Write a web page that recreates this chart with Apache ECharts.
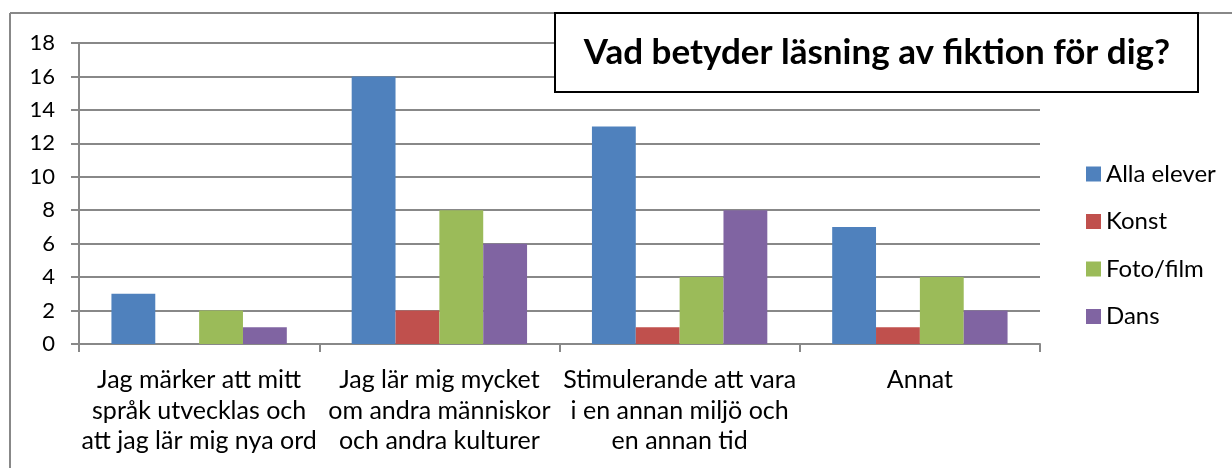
<!DOCTYPE html>
<html>
<head>
<meta charset="utf-8">
<script src="https://cdn.jsdelivr.net/npm/echarts@6/dist/echarts.min.js"></script>
<style>
html,body{margin:0;padding:0;background:#fff;}
#chart{width:1232px;height:468px;}
</style>
</head>
<body>
<div id="chart"></div>
<script>
var categories = [
  "Jag märker att mitt\nspråk utvecklas och\natt jag lär mig nya ord",
  "Jag lär mig mycket\nom andra människor\noch andra kulturer",
  "Stimulerande att vara\ni en annan miljö och\nen annan tid",
  "Annat"
];
var seriesNames = ["Alla elever", "Konst", "Foto/film", "Dans"];
var allaElever = [3, 16, 13, 7];
var konst = [0, 2, 1, 1];
var fotoFilm = [2, 8, 4, 4];
var dans = [1, 6, 8, 2];
var colors = ["#4F81BD", "#C0504D", "#9BBB59", "#8064A2"];
var titleText = "Vad betyder läsning av fiktion för dig?";

var FONT = "Lato, 'Open Sans', sans-serif";
var chart = echarts.init(document.getElementById('chart'));
var data = [allaElever, konst, fotoFilm, dans];
var series = seriesNames.map(function (n, i) {
  return {
    name: n, type: 'bar', data: data[i],
    barGap: '0%', barCategoryGap: '27%',
    itemStyle: { color: colors[i] },
    z: 3
  };
});
chart.setOption({
  animation: false,
  backgroundColor: '#fff',
  grid: { left: 79, right: 192, top: 43, bottom: 124, containLabel: false },
  legend: {
    orient: 'vertical', left: 1081, top: 157,
    itemWidth: 15, itemHeight: 15, itemGap: 23.5,
    icon: 'rect',
    textStyle: { fontFamily: FONT, fontSize: 24, lineHeight: 24, color: '#000' },
    data: seriesNames
  },
  xAxis: {
    type: 'category', data: categories,
    axisLine: { lineStyle: { color: '#888', width: 2 } },
    axisTick: { show: true, length: 8, lineStyle: { color: '#888', width: 2 } },
    axisLabel: { fontFamily: FONT, fontSize: 25, color: '#000', lineHeight: 30.5, margin: 21, interval: 0 },
    splitLine: { show: false }
  },
  yAxis: {
    type: 'value', min: 0, max: 18, interval: 2,
    axisLine: { show: true, lineStyle: { color: '#888', width: 2 } },
    axisTick: { show: true, length: 8, lineStyle: { color: '#888', width: 2 } },
    axisLabel: { fontFamily: FONT, fontSize: 22, color: '#000', margin: 24 },
    splitLine: { show: true, lineStyle: { color: '#888', width: 2 } }
  },
  series: series,
  graphic: [
    { type: 'line', shape: { x1: 10, y1: 13, x2: 1232, y2: 13 }, style: { stroke: '#888', lineWidth: 2 }, z: 1 },
    { type: 'line', shape: { x1: 10, y1: 13, x2: 10, y2: 468 }, style: { stroke: '#888', lineWidth: 2 }, z: 1 },
    {
      type: 'group', z: 100,
      children: [
        { type: 'rect', shape: { x: 555, y: 13, width: 643, height: 79 }, style: { fill: '#fff', stroke: '#000', lineWidth: 2 }, z: 100 },
        { type: 'text', x: 877, y: 53, style: { text: titleText, fontFamily: FONT, fontSize: 35, fontWeight: 'bold', fill: '#000', textAlign: 'center', textVerticalAlign: 'middle' }, z: 101 }
      ]
    }
  ]
});
</script>
</body>
</html>
